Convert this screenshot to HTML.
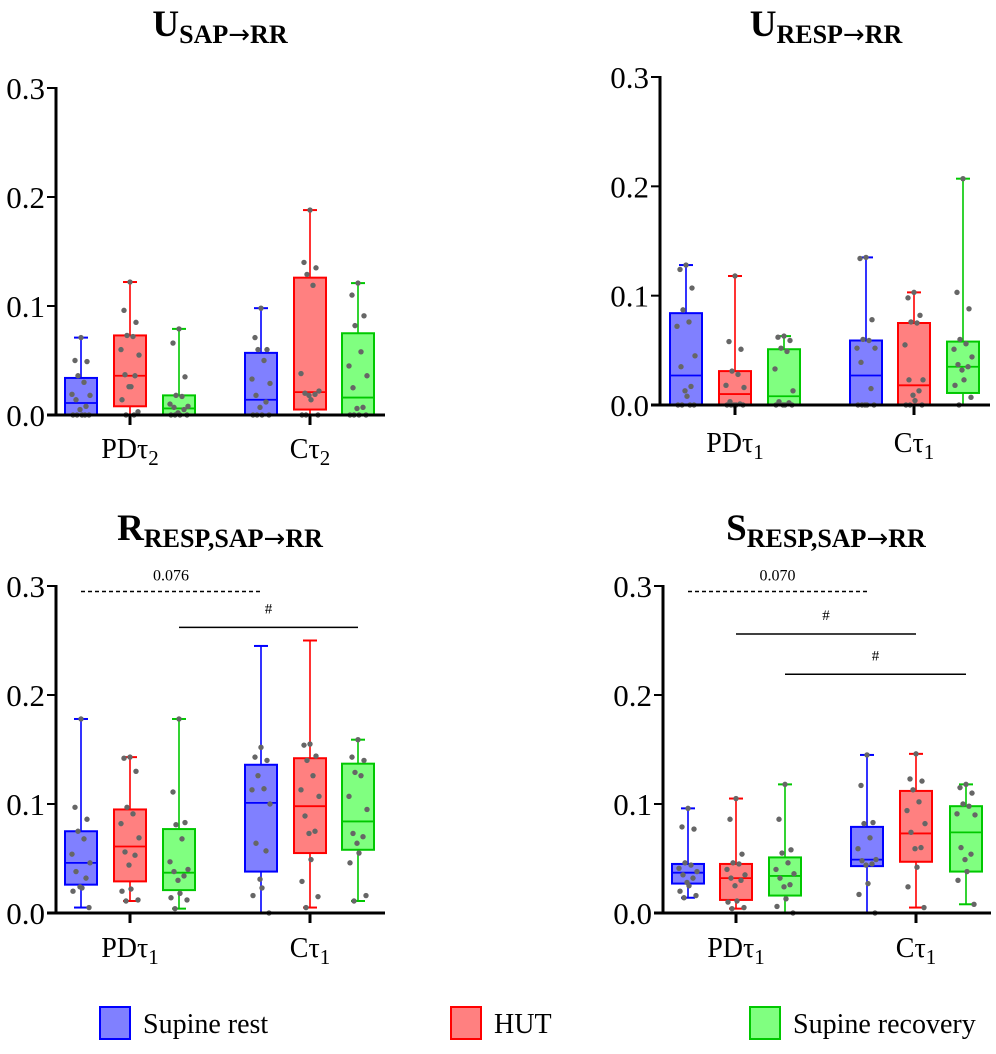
<!DOCTYPE html>
<html><head><meta charset="utf-8"><style>
html,body{margin:0;padding:0;background:#fff;}
svg{display:block;font-family:"Liberation Serif","DejaVu Serif",serif;}
</style></head><body>
<svg id="fig" width="996" height="1054" viewBox="0 0 996 1054" xmlns="http://www.w3.org/2000/svg"></svg>
<script>
// ---- data: [min, q1, median, q3, max] per box, order: PD blue, PD red, PD green, C blue, C red, C green
const groupLabelsTop1 = ["PDτ", "Cτ"];
const subTop1 = "2";
const subOthers = "1";
const seriesNames = ["Supine rest", "HUT", "Supine recovery"];
const yTicks = [0, 0.1, 0.2, 0.3];
const yTickLabels = ["0.0", "0.1", "0.2", "0.3"];

const p1Stats = [[0,0,0.011,0.034,0.071],[0,0.008,0.036,0.073,0.122],[0,0,0.006,0.018,0.079],[0,0,0.014,0.057,0.098],[0,0.005,0.021,0.126,0.188],[0,0,0.016,0.075,0.121]];
const p1Points = [
 [0.071,0.050,0.049,0.036,0.030,0.019,0.018,0.014,0.008,0.005,0,0,0,0,0],
 [0.122,0.096,0.085,0.073,0.072,0.060,0.055,0.037,0.036,0.026,0.026,0.014,0.003,0,0],
 [0.079,0.066,0.035,0.018,0.017,0.010,0.008,0.007,0.005,0.002,0,0,0,0],
 [0.098,0.071,0.060,0.060,0.050,0.033,0.029,0.018,0.012,0.007,0,0,0,0],
 [0.188,0.140,0.135,0.129,0.119,0.038,0.022,0.020,0.019,0.018,0.014,0,0,0],
 [0.121,0.110,0.091,0.082,0.058,0.045,0.036,0.025,0.007,0.006,0,0,0,0]];
const p2Stats = [[0,0,0.027,0.084,0.128],[0,0,0.010,0.031,0.118],[0,0,0.008,0.051,0.063],[0,0,0.027,0.059,0.135],[0,0,0.018,0.075,0.103],[0,0.011,0.035,0.058,0.207]];
const p2Points = [
 [0.128,0.124,0.107,0.087,0.076,0.072,0.045,0.035,0.017,0.013,0.008,0,0,0,0],
 [0.118,0.058,0.051,0.031,0.028,0.018,0.016,0.003,0.001,0,0,0,0,0],
 [0.063,0.062,0.059,0.052,0.049,0.033,0.013,0.003,0.002,0,0,0,0],
 [0.135,0.134,0.078,0.060,0.059,0.052,0.052,0.039,0.015,0,0,0,0,0],
 [0.103,0.098,0.082,0.076,0.075,0.055,0.023,0.023,0.013,0.009,0.004,0,0,0],
 [0.207,0.103,0.088,0.060,0.056,0.051,0.044,0.037,0.035,0.032,0.023,0.018,0.007,0]];
const p3Stats = [[0.005,0.026,0.046,0.075,0.178],[0.011,0.029,0.061,0.095,0.143],[0.004,0.021,0.037,0.077,0.178],[0,0.038,0.101,0.136,0.245],[0.005,0.055,0.098,0.142,0.250],[0.011,0.058,0.084,0.137,0.159]];
const p3Points = [
 [0.178,0.097,0.086,0.075,0.068,0.054,0.046,0.038,0.032,0.024,0.023,0.020,0.005],
 [0.143,0.142,0.130,0.097,0.091,0.082,0.069,0.056,0.053,0.044,0.022,0.020,0.012,0.011],
 [0.178,0.111,0.083,0.081,0.068,0.047,0.040,0.038,0.034,0.030,0.018,0.014,0.012,0.004],
 [0.152,0.143,0.140,0.126,0.114,0.113,0.100,0.064,0.057,0.031,0.023,0.016,0],
 [0.155,0.154,0.144,0.140,0.126,0.113,0.107,0.089,0.075,0.073,0.049,0.029,0.015,0.005],
 [0.159,0.143,0.140,0.129,0.126,0.107,0.095,0.073,0.070,0.064,0.055,0.046,0.016,0.011]];
const p4Stats = [[0.014,0.027,0.037,0.045,0.096],[0.004,0.012,0.032,0.045,0.105],[0,0.016,0.034,0.051,0.118],[0,0.043,0.049,0.079,0.145],[0.005,0.047,0.073,0.112,0.146],[0.008,0.038,0.074,0.098,0.118]];
const p4Points = [
 [0.096,0.079,0.077,0.046,0.044,0.041,0.038,0.035,0.032,0.028,0.025,0.020,0.016,0.014],
 [0.105,0.086,0.054,0.046,0.045,0.040,0.035,0.032,0.030,0.025,0.011,0.010,0.005,0.004],
 [0.118,0.086,0.058,0.055,0.046,0.040,0.036,0.032,0.026,0.024,0.013,0.006,0],
 [0.145,0.117,0.083,0.082,0.069,0.059,0.049,0.048,0.045,0.044,0.027,0.017,0],
 [0.146,0.123,0.121,0.113,0.102,0.094,0.082,0.074,0.060,0.059,0.042,0.024,0.005],
 [0.118,0.115,0.110,0.100,0.098,0.091,0.090,0.060,0.054,0.049,0.038,0.030,0.008]];
// significance bars: [yValue, fromBoxIndex, toBoxIndex, label, dashed]
const p3Sig = [[0.295,0,3,"0.076",true],[0.262,2,5,"#",false]];
const p4Sig = [[0.295,0,3,"0.070",true],[0.256,1,4,"#",false],[0.219,2,5,"#",false]];

const NS = "http://www.w3.org/2000/svg";
const svg = document.getElementById("fig");
const strokeCols = ["#0000ff","#ff0000","#00c800"];
const fillCols = ["#8080ff","#ff8080","#80ff80"];
function mk(tag, attrs, parent){const e=document.createElementNS(NS,tag);for(const k in attrs)e.setAttribute(k,attrs[k]);(parent||svg).appendChild(e);return e;}

const panels = [
 {stats:p1Stats,pts:p1Points,sig:[],axX:56,axEnd:385,y0:415,y3:88,boxX:[81,130,179,261,310,358],grpX:[130,310],sub:subTop1,labY:458,title:["U","SAP","RR"],tX:220,tY:36,name:"u-sap-rr"},
 {stats:p2Stats,pts:p2Points,sig:[],axX:660,axEnd:990,y0:405,y3:77,boxX:[686,735,784,866,914,963],grpX:[735,914],sub:subOthers,labY:452,title:["U","RESP","RR"],tX:826,tY:36,name:"u-resp-rr"},
 {stats:p3Stats,pts:p3Points,sig:p3Sig,axX:56,axEnd:385,y0:913,y3:586,boxX:[81,130,179,261,310,358],grpX:[130,310],sub:subOthers,labY:957,title:["R","RESP,SAP","RR"],tX:220,tY:540,name:"r-resp-sap-rr"},
 {stats:p4Stats,pts:p4Points,sig:p4Sig,axX:663,axEnd:991,y0:913,y3:586,boxX:[688,736,785,867,916,966],grpX:[736,916],sub:subOthers,labY:957,title:["S","RESP,SAP","RR"],tX:826,tY:540,name:"s-resp-sap-rr"}
];
const jit = [0,-6,6,-3,3,-9,9,-5,5,-1,1,-8,8,-4,4];

panels.forEach((P)=>{
  const g = mk("g",{});
  
  
  const ys = v => P.y0 - (v/0.3)*(P.y0-P.y3);
  // title
  const t = mk("text",{x:P.tX,y:P.tY,"text-anchor":"middle","font-weight":"bold","font-size":"37"},g);
  
  
  const t1 = mk("tspan",{},t); t1.textContent = P.title[0];
  const t2 = mk("tspan",{"font-size":"26",dy:"7"},t); t2.textContent = P.title[1];
  const t3 = mk("tspan",{"font-size":"26","font-family":"DejaVu Sans, sans-serif","font-weight":"normal"},t); t3.textContent = "→";
  const t4 = mk("tspan",{"font-size":"26"},t); t4.textContent = P.title[2];
  // boxes
  P.stats.forEach((s,i)=>{
    const c=i%3, x=P.boxX[i], w=32;
    const bg = mk("g",{},g);
    
    
    mk("line",{x1:x,x2:x,y1:ys(s[0]),y2:ys(s[4]),stroke:strokeCols[c],"stroke-width":1.6},bg);
    mk("line",{x1:x-7,x2:x+7,y1:ys(s[0]),y2:ys(s[0]),stroke:strokeCols[c],"stroke-width":2},bg);
    mk("line",{x1:x-7,x2:x+7,y1:ys(s[4]),y2:ys(s[4]),stroke:strokeCols[c],"stroke-width":2},bg);
    mk("rect",{x:x-w/2,y:ys(s[3]),width:w,height:Math.max(ys(s[1])-ys(s[3]),0.5),fill:fillCols[c],stroke:strokeCols[c],"stroke-width":2},bg);
    mk("line",{x1:x-w/2,x2:x+w/2,y1:ys(s[2]),y2:ys(s[2]),stroke:strokeCols[c],"stroke-width":1.8},bg);
    P.pts[i].forEach((v,k)=>{
      const d = mk("circle",{cx:x+jit[k%jit.length],cy:ys(v),r:2.7,fill:"#666"},bg);
      
      
    });
  });
  // axes
  const ax = mk("g",{},g);
  
  
  mk("line",{x1:P.axX,x2:P.axX,y1:P.y3-1,y2:P.y0+1.5,stroke:"#000","stroke-width":3},ax);
  mk("line",{x1:P.axX-9,x2:P.axEnd,y1:P.y0,y2:P.y0,stroke:"#000","stroke-width":3},ax);
  yTicks.forEach((v,k)=>{
    mk("line",{x1:P.axX-9,x2:P.axX,y1:ys(v),y2:ys(v),stroke:"#000","stroke-width":2},ax);
    const tl = mk("text",{x:P.axX-11,y:ys(v)+11,"text-anchor":"end","font-size":"31"},ax);
    
    
    tl.textContent = yTickLabels[k];
  });
  P.grpX.forEach((x,k)=>{
    mk("line",{x1:x,x2:x,y1:P.y0,y2:P.y0+10,stroke:"#000","stroke-width":3},ax);
    const xl = mk("text",{x:x,y:P.labY,"text-anchor":"middle","font-size":"28"},ax);
    
    
    const a = mk("tspan",{},xl); a.textContent = groupLabelsTop1[k];
    const b = mk("tspan",{"font-size":"21",dy:"7"},xl); b.textContent = P.sub;
  });
  // significance
  P.sig.forEach(s=>{
    const y=ys(s[0]), xa=P.boxX[s[1]], xb=P.boxX[s[2]];
    const sg = mk("g",{},g);
    
    
    const ln = mk("line",{x1:xa,x2:xb,y1:y,y2:y,stroke:"#000","stroke-width":1.5},sg);
    if(s[4]) ln.setAttribute("stroke-dasharray","4,3");
    const st = mk("text",{x:(xa+xb)/2,y:y-(s[4]?11:14),"text-anchor":"middle","font-size":s[4]?"16":"15"},sg);
    st.textContent = s[3];
  });
});

// legend
const lg = mk("g",{});


const legX = [100,451,750];
seriesNames.forEach((n,i)=>{
  const e = mk("g",{},lg);
  
  
  mk("rect",{x:legX[i],y:1007,width:30,height:32,fill:fillCols[i],stroke:strokeCols[i],"stroke-width":2},e);
  const tx = mk("text",{x:legX[i]+43,y:1033,"font-size":"28"},e);
  tx.textContent = n;
});
</script>
</body></html>
